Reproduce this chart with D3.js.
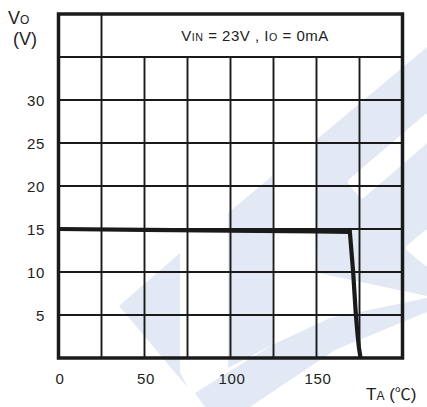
<!DOCTYPE html>
<html>
<head>
<meta charset="utf-8">
<script src="https://cdn.jsdelivr.net/npm/d3@7"></script>
<style>
  body { margin: 0; background: #fff; }
  svg { display: block; font-family: Arial, "Liberation Sans", sans-serif; }
</style>
</head>
<body>
<div id="chart"></div>
<script>
// ambient temperature (°C) vs output voltage (V)
const temps = [0, 50, 100, 150, 169.4, 171.3, 172.9, 173.8, 174.6, 175.6];
const vout = [15, 14.9, 14.8, 14.72, 14.65, 10, 5, 2.9, 1.3, 0];

const xTicks = [0, 50, 100, 150];
const yTicks = [5, 10, 15, 20, 25, 30];
const xGrid = [25, 50, 75, 100, 125, 150, 175];
const yGrid = [5, 10, 15, 20, 25, 30, 35];

const width = 427, height = 407;
const margin = { top: 14, right: 24.5, bottom: 49, left: 58.5 };

const svg = d3.select("#chart")
  .append("svg")
  .attr("width", width)
  .attr("height", height);

const x = d3.scaleLinear()
  .domain([0, 200])
  .range([margin.left, width - margin.right]);

const y = d3.scaleLinear()
  .domain([0, 40])
  .range([height - margin.bottom, margin.top]);

// faint background watermark
const wmColor = "#e2e9f5";
const watermark = [
  [[119, 306], [180, 253], [180, 372], [188, 388]],
  [[228, 213], [272, 176], [272, 345], [228, 368]],
  [[316, 140], [427, 47], [427, 296], [318, 273]],
  [[195, 393], [272, 345], [330, 318], [427, 298], [427, 312], [335, 350], [250, 407], [205, 407]]
];
const wmCuts = [
  [[352, 182], [427, 118], [427, 138], [362, 194]],
  [[410, 248], [427, 234], [427, 262]]
];
const poly = d3.line().curve(d3.curveLinearClosed);
svg.append("g")
  .selectAll("path")
  .data(watermark)
  .join("path")
  .attr("d", poly)
  .attr("fill", wmColor);
svg.append("g")
  .selectAll("path")
  .data(wmCuts)
  .join("path")
  .attr("d", poly)
  .attr("fill", "#fff")
  .attr("stroke", "#fff")
  .attr("stroke-width", 8)
  .attr("stroke-linejoin", "round");

// grid
const grid = svg.append("g")
  .attr("stroke", "#1a1a1a")
  .attr("stroke-width", 1.9);

grid.selectAll("line.v")
  .data(xGrid)
  .join("line")
  .attr("class", "v")
  .attr("x1", d => x(d))
  .attr("x2", d => x(d))
  .attr("y1", y(0))
  .attr("y2", d => d === 25 ? y(40) : y(35));

grid.selectAll("line.h")
  .data(yGrid)
  .join("line")
  .attr("class", "h")
  .attr("x1", x(0))
  .attr("x2", x(200))
  .attr("y1", d => y(d))
  .attr("y2", d => y(d));

// frame
svg.append("rect")
  .attr("x", x(0))
  .attr("y", y(40))
  .attr("width", x(200) - x(0))
  .attr("height", y(0) - y(40))
  .attr("fill", "none")
  .attr("stroke", "#1a1a1a")
  .attr("stroke-width", 3.5);

// curve
const line = d3.line()
  .x((d, i) => x(temps[i]))
  .y(d => y(d));

svg.append("path")
  .datum(vout)
  .attr("d", line)
  .attr("fill", "none")
  .attr("stroke", "#1a1a1a")
  .attr("stroke-width", 4.2)
  .attr("stroke-linejoin", "miter");

// tick labels
svg.append("g")
  .selectAll("text")
  .data(yTicks)
  .join("text")
  .attr("x", 45)
  .attr("y", d => y(d) + 6)
  .attr("text-anchor", "end")
  .attr("font-size", 15)
  .attr("letter-spacing", 0.6)
  .attr("fill", "#222")
  .text(d => d);

svg.append("g")
  .selectAll("text")
  .data(xTicks)
  .join("text")
  .attr("x", d => x(d) + 1.5)
  .attr("y", 384)
  .attr("text-anchor", "middle")
  .attr("font-size", 15)
  .attr("letter-spacing", 0.6)
  .attr("fill", "#222")
  .text(d => d);

// condition label
const title = svg.append("text")
  .attr("x", (x(25) + x(200)) / 2 + 3)
  .attr("y", 41)
  .attr("text-anchor", "middle")
  .attr("font-size", 15)
  .attr("letter-spacing", 0.5)
  .attr("fill", "#222");
title.append("tspan").text("V");
title.append("tspan").attr("font-size", 10.7).text("IN");
title.append("tspan").text(" = 23V , I");
title.append("tspan").attr("font-size", 10.7).text("O");
title.append("tspan").text(" = 0mA");

// y axis title
const yTitle = svg.append("text")
  .attr("x", 8)
  .attr("y", 24)
  .attr("font-size", 18)
  .attr("fill", "#222");
yTitle.append("tspan").text("V");
yTitle.append("tspan").attr("font-size", 12).text("O");

svg.append("text")
  .attr("x", 13)
  .attr("y", 45)
  .attr("font-size", 18)
  .attr("fill", "#222")
  .text("(V)");

// x axis title
const xTitle = svg.append("text")
  .attr("x", 366)
  .attr("y", 400)
  .attr("font-size", 17)
  .attr("fill", "#222");
xTitle.append("tspan").text("T");
xTitle.append("tspan").attr("font-size", 12).text("A");
xTitle.append("tspan").text(" (");
xTitle.append("tspan").attr("font-family", "'Noto Sans CJK JP', sans-serif").attr("font-size", 16).text("℃");
xTitle.append("tspan").text(")");
</script>
</body>
</html>
